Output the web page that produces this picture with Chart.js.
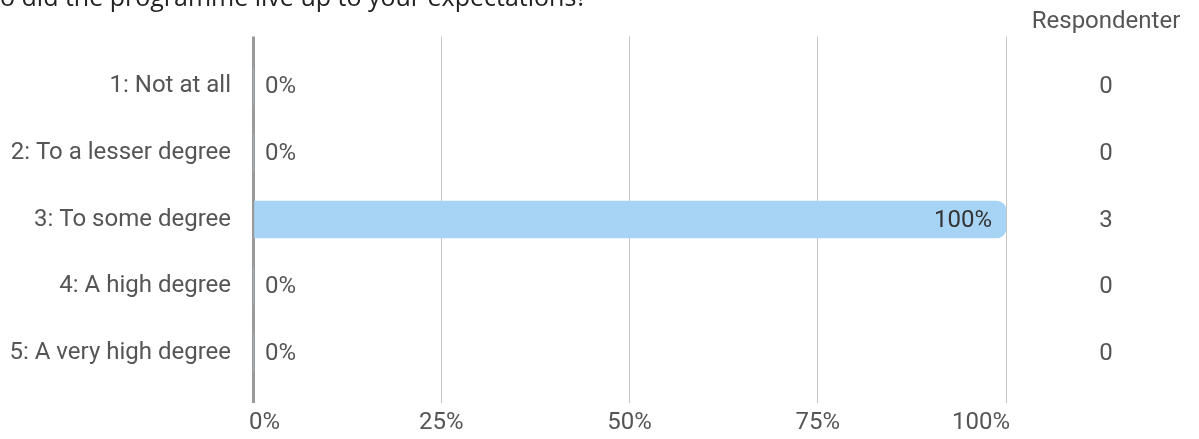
<!DOCTYPE html>
<html>
<head>
<meta charset="utf-8">
<script src="https://cdn.jsdelivr.net/npm/chart.js@4/dist/chart.umd.min.js"></script>
<style>
html,body{margin:0;padding:0;background:#fff;}
#wrap{width:1199px;height:439px;position:relative;}
</style>
</head>
<body>
<div id="wrap"><canvas id="c" width="1199" height="439"></canvas></div>
<script>
const titleText = "o did the programme live up to your expectations?";
const categories = ["1: Not at all", "2: To a lesser degree", "3: To some degree", "4: A high degree", "5: A very high degree"];
const percentValues = [0, 0, 100, 0, 0];
const respondents = [0, 0, 3, 0, 0];
const xTicks = [0, 25, 50, 75, 100];
const countHeader = "Respondenter";

const FONT = "Roboto";
const FS = 24;

const labelsPlugin = {
  id: 'labelsPlugin',
  afterDatasetsDraw(chart) {
    const ctx = chart.ctx;
    const meta = chart.getDatasetMeta(0);
    const xs = chart.scales.x;
    ctx.save();
    ctx.font = FS + "px " + FONT;
    ctx.textBaseline = 'middle';
    meta.data.forEach((bar, i) => {
      const v = percentValues[i];
      const y = bar.y;
      if (v >= 50) {
        ctx.fillStyle = '#333';
        ctx.textAlign = 'right';
        ctx.fillText(v + '%', bar.x - 14, y + 1);
      } else {
        ctx.fillStyle = '#555';
        ctx.textAlign = 'left';
        ctx.fillText(v + '%', xs.getPixelForValue(0) + 12, y + 1);
      }
      ctx.fillStyle = '#555';
      ctx.textAlign = 'center';
      ctx.fillText(String(respondents[i]), 1106, y + 1);
    });
    ctx.fillStyle = '#555';
    ctx.textAlign = 'center';
    ctx.fillText(countHeader, 1106, 22);
    // x-axis tick labels (first/last kept inside the axis range)
    const yTick = chart.chartArea.bottom + 20;
    xTicks.forEach((t, i) => {
      const px = xs.getPixelForValue(t);
      let x = px;
      if (i === 0) { ctx.textAlign = 'left'; x = px - 4; }
      else if (i === xTicks.length - 1) { ctx.textAlign = 'right'; x = px + 4; }
      else { ctx.textAlign = 'center'; }
      ctx.fillText(t + '%', x, yTick);
    });
    ctx.restore();
  },
  afterDraw(chart) {
    const ctx = chart.ctx;
    ctx.save();
    ctx.font = "25px 'Open Sans'";
    ctx.fillStyle = '#222';
    ctx.textAlign = 'left';
    ctx.textBaseline = 'alphabetic';
    ctx.fillText(titleText, 0, 6);
    ctx.restore();
  }
};

new Chart(document.getElementById('c'), {
  type: 'bar',
  data: {
    datasets: [{
      data: percentValues.map((v, i) => ({ x: v, y: i })),
      backgroundColor: '#a7d3f4',
      borderWidth: 0,
      borderRadius: { topLeft: 0, bottomLeft: 0, topRight: 10, bottomRight: 10 },
      borderSkipped: false,
      barThickness: 37
    }]
  },
  options: {
    indexAxis: 'y',
    responsive: false,
    animation: false,
    devicePixelRatio: 1,
    layout: { padding: { top: 35, right: 193, left: 0, bottom: 0 } },
    plugins: { legend: { display: false }, tooltip: { enabled: false } },
    scales: {
      x: {
        type: 'linear',
        min: 0, max: 100,
        afterBuildTicks(s) { s.ticks = xTicks.map(v => ({ value: v })); },
        afterFit(s) { s.height = 35; },
        grid: {
          drawTicks: false,
          color: (c) => c.tick && c.tick.value === 0 ? '#9a9a9a' : '#c4c4c4',
          lineWidth: (c) => c.tick && c.tick.value === 0 ? 3 : 1
        },
        border: { display: false },
        ticks: { display: false }
      },
      y: {
        type: 'linear',
        reverse: true,
        offset: false,
        min: -0.75, max: 4.75,
        afterBuildTicks(s) { s.ticks = categories.map((c, i) => ({ value: i })); },
        afterFit(s) { s.width = 253; },
        grid: { display: false, drawTicks: false, offset: false },
        border: { display: false },
        ticks: {
          padding: 22,
          color: '#555',
          font: { family: FONT, size: FS },
          callback: (v) => categories[v]
        }
      }
    }
  },
  plugins: [labelsPlugin]
});
</script>
</body>
</html>
